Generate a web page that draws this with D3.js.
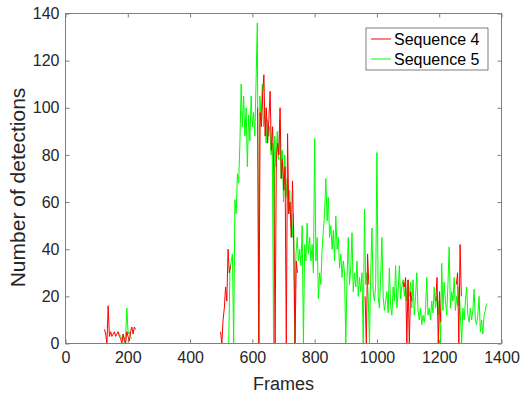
<!DOCTYPE html>
<html><head><meta charset="utf-8">
<script src="https://cdn.jsdelivr.net/npm/d3@7"></script>
<style>body{margin:0;background:#fff}svg{display:block}text{font-family:"Liberation Sans",Arial,sans-serif}</style>
</head><body><svg id="c" width="522" height="396"></svg>
<script>
// ---- data ----
const frameStep = 4;
const xTicks = [0, 200, 400, 600, 800, 1000, 1200, 1400];
const yTicks = [0, 20, 40, 60, 80, 100, 120, 140];
const seriesNames = ["Sequence 4", "Sequence 5"];

// Sequence 4 (red): segments, each starting frame + values every frameStep frames
const seq4Starts = [125, 498, 617, 962, 1084, 1189, 1255];
const seq4SegA = [6, 4, 0, 16, 3, 5, 3, 4, 5, 3, 4, 5, 3, 2, 0, 4, 2, 0, 5, 3, 1, 5, 7, 4, 7, 6];
const seq4SegB = [5, 0, 10, 15, 24, 18, 40, 30, 33];
const seq4SegC = [100, 0, 98, 92, 105, 114, 88, 100, 85, 95, 107, 82, 92, 72, 0, 78, 85, 80, 100, 70, 78, 65, 75, 0, 89, 55, 60, 45, 69, 42, 0, 35, 30];
const seq4SegD = [20, 0, 38, 25];
const seq4SegE = [26, 24, 28, 0, 27, 0, 22, 18];
const seq4SegF = [18, 28, 0, 22, 9];
const seq4SegG = [25, 30, 0, 42, 20];

// Sequence 5 (green)
const seq5Starts = [173, 524];
const seq5SegA = [4, 3, 2, 4, 0, 3, 15, 4, 5, 3, 2];
const seq5SegB = [0, 31, 35, 38, 0, 61, 55, 72, 68, 85, 110, 92, 105, 88, 100, 75, 97, 86, 105, 92, 98, 88, 112, 136, 0,
  105, 95, 110, 92, 100, 85, 95, 88, 92, 80, 85, 0, 88, 75, 90, 78, 95, 70, 82, 60, 80, 62, 70, 55, 65, 50, 45, 55, 0,
  38, 45, 35, 40, 33, 50, 0, 42, 35, 51, 38, 45, 35, 42, 30, 87, 35, 45, 19, 30, 25, 40, 48, 55, 70, 52, 62, 45, 50, 40,
  48, 35, 54, 40, 45, 32, 38, 28, 35, 30, 0, 28, 45, 25, 32, 47, 22, 30, 24, 35, 20, 28, 22, 30, 0, 57, 25, 30, 20, 0,
  30, 49, 22, 18, 25, 81, 20, 15, 28, 45, 20, 14, 18, 22, 13, 32, 16, 12, 24, 18, 33, 15, 22, 33, 19, 24, 27, 20, 25, 18,
  27, 20, 26, 15, 27, 12, 20, 30, 14, 10, 15, 8, 12, 9, 14, 28, 12, 15, 10, 18, 13, 24, 15, 20, 12, 18, 0, 34, 14, 26,
  18, 12, 25, 41, 15, 22, 18, 28, 14, 20, 16, 24, 12, 0, 15, 10, 18, 24, 12, 9, 15, 10, 14, 23, 10, 8, 12, 20, 5, 10,
  4, 12, 14, 17];

const seq4Segments = [seq4SegA, seq4SegB, seq4SegC, seq4SegD, seq4SegE, seq4SegF, seq4SegG];
const seq5Segments = [seq5SegA, seq5SegB];

// ---- layout ----
const L = 65.5, R = 501.5, T = 13.5, B = 343.5;
const svg = d3.select("#c");
const x = d3.scaleLinear().domain([0, 1400]).range([L, R]);
const y = d3.scaleLinear().domain([0, 140]).range([B, T]);
const textCol = "#262626", axisCol = "#262626";

function toPoints(starts, segs) {
  return segs.map((vals, k) => vals.map((v, i) => [starts[k] + i * frameStep, v]));
}
const line = d3.line().x(d => x(d[0])).y(d => y(d[1]));

const plot = svg.append("g");
toPoints(seq5Starts, seq5Segments).forEach(pts => {
  plot.append("path").attr("d", line(pts)).attr("fill", "none")
    .attr("stroke", "#00ff00").attr("stroke-width", 1);
});
toPoints(seq4Starts, seq4Segments).forEach(pts => {
  plot.append("path").attr("d", line(pts)).attr("fill", "none")
    .attr("stroke", "#ff0000").attr("stroke-width", 1);
});

// axes (inward ticks on all four sides)
function styleAxis(g, showLabels) {
  g.select(".domain").remove();
  g.selectAll(".tick line").attr("stroke", axisCol).attr("stroke-width", 0.6);
  g.selectAll(".tick text").attr("fill", textCol).style("font-size", "16px");
  if (!showLabels) g.selectAll(".tick text").remove();
}
svg.append("g").attr("transform", `translate(0,${B})`)
  .call(d3.axisBottom(x).tickValues(xTicks).tickSizeInner(-4).tickSizeOuter(0).tickPadding(8).tickFormat(d3.format("d")))
  .call(g => styleAxis(g, true));
svg.append("g").attr("transform", `translate(0,${T})`)
  .call(d3.axisTop(x).tickValues(xTicks).tickSizeInner(-4).tickSizeOuter(0))
  .call(g => styleAxis(g, false));
svg.append("g").attr("transform", `translate(${L},0)`)
  .call(d3.axisLeft(y).tickValues(yTicks).tickSizeInner(-4).tickSizeOuter(0).tickPadding(6).tickFormat(d3.format("d")))
  .call(g => styleAxis(g, true));
svg.append("g").attr("transform", `translate(${R},0)`)
  .call(d3.axisRight(y).tickValues(yTicks).tickSizeInner(-4).tickSizeOuter(0))
  .call(g => styleAxis(g, false));

svg.append("rect").attr("x", L).attr("y", T).attr("width", R - L).attr("height", B - T)
  .attr("fill", "none").attr("stroke", "#808080").attr("stroke-width", 1);

// axis titles
svg.append("text").attr("x", (L + R) / 2).attr("y", 390).attr("text-anchor", "middle")
  .attr("fill", textCol).style("font-size", "18px").text("Frames");
svg.append("text").attr("transform", "translate(25,187.5) rotate(-90)").attr("text-anchor", "middle")
  .attr("fill", textCol).style("font-size", "21px").text("Number of detections");

// legend
const lg = svg.append("g").attr("transform", "translate(366,28)");
lg.append("rect").attr("width", 122).attr("height", 42).attr("fill", "#fff")
  .attr("stroke", "#262626").attr("stroke-width", 0.6);
const legendColors = ["#ff0000", "#00ff00"];
seriesNames.forEach((n, i) => {
  const yy = 11 + i * 20;
  lg.append("line").attr("x1", 5).attr("x2", 25).attr("y1", yy).attr("y2", yy)
    .attr("stroke", legendColors[i]).attr("stroke-width", 1);
  lg.append("text").attr("x", 28).attr("y", yy + 5.5).attr("fill", "#000")
    .style("font-size", "16px").text(n);
});
</script></body></html>
